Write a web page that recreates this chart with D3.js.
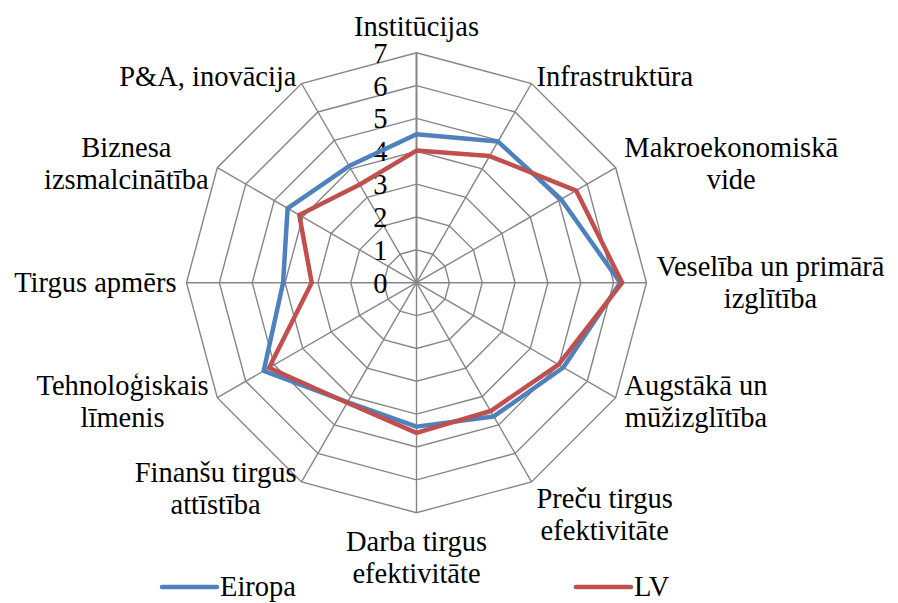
<!DOCTYPE html>
<html>
<head>
<meta charset="utf-8">
<script src="https://cdn.jsdelivr.net/npm/d3@7"></script>
<style>
  body { margin: 0; background: #fff; font-family: "Liberation Serif", serif; }
  text, tspan { font-family: "Liberation Serif", serif !important; }
</style>
</head>
<body>
<div id="chart"></div>
<script>
// radar chart: Eiropa vs LV

const categories = [
    ["Institūcijas"],
    ["Infrastruktūra"],
    ["Makroekonomiskā", "vide"],
    ["Veselība un primārā", "izglītība"],
    ["Augstākā un", "mūžizglītība"],
    ["Preču tirgus", "efektivitāte"],
    ["Darba tirgus", "efektivitāte"],
    ["Finanšu tirgus", "attīstība"],
    ["Tehnoloģiskais", "līmenis"],
    ["Tirgus apmērs"],
    ["Biznesa", "izsmalcinātība"],
    ["P&A, inovācija"]
]
const eiropa = [4.52, 4.96, 5.08, 6.2, 5.16, 4.70, 4.38, 4.2, 5.37, 4.06, 4.53, 4.1]
const lv = [4.02, 4.45, 5.61, 6.26, 4.99, 4.51, 4.57, 4.22, 5.18, 3.19, 4.12, 3.45]
const ticks = [0, 1, 2, 3, 4, 5, 6, 7]
const seriesNames = ["Eiropa", "LV"]
const colors = ["#4F81BD", "#C0504D"]

let width = 898
let height = 603
let cx = 416.5
let cy = 282.7
let radius = 230
let fontSize = 28.5
let lineH = 32

var svg = d3.select("#chart")
    .append("svg")
    .attr("width", width)
    .attr("height", height)
    .attr("font-family", "Liberation Serif")

var r = d3.scaleLinear().domain([0, 7]).range([0, radius])
var angle = d3.scaleLinear().domain([0, categories.length]).range([0, 2 * Math.PI])

function pt(i, v) {
    let a = angle(i)
    return [cx + Math.sin(a) * r(v), cy - Math.cos(a) * r(v)]
}

function styleText(sel) {
    sel.attr("font-family", "Liberation Serif")
        .style("font-family", "Liberation Serif")
        .style("font-size", fontSize + "px")
        .attr("fill", "#000")
}

const g = svg.append("g")

// rings
g.selectAll(".ring")
    .data(ticks.slice(1))
    .enter()
    .append("polygon")
    .attr("points", t => categories.map((c, i) => pt(i, t).join(",")).join(" "))
    .attr("fill", "none")
    .attr("stroke", "#868686")
    .attr("stroke-width", 1.4)

// spokes
g.selectAll(".spoke")
    .data(categories)
    .enter()
    .append("line")
    .attr("x1", cx).attr("y1", cy)
    .attr("x2", (d, i) => pt(i, 7)[0])
    .attr("y2", (d, i) => pt(i, 7)[1])
    .attr("stroke", "#868686")
    .attr("stroke-width", (d, i) => i == 0 ? 2 : 1.4)

// tick labels along the top axis
g.selectAll(".tick")
    .data(ticks)
    .enter()
    .append("text")
    .attr("x", cx - 29)
    .attr("y", t => cy - r(t) + 10)
    .attr("text-anchor", "end")
    .call(styleText)
    .text(t => t)

// series
var line = d3.line().curve(d3.curveLinearClosed)
const series = [eiropa, lv]
g.selectAll(".series")
    .data(series)
    .enter()
    .append("path")
    .attr("d", s => line(s.map((v, i) => pt(i, v))))
    .attr("fill", "none")
    .attr("stroke", (s, k) => colors[k])
    .attr("stroke-width", 4.5)
    .attr("stroke-linejoin", "round")

// category labels
categories.forEach((lines, i) => {
    let a = angle(i)
    let s = Math.sin(a), c = Math.cos(a)
    let [px, py] = pt(i, 7)
    let h = lines.length * lineH
    let x, midY
    if (Math.abs(s) < 0.01) {
        x = px
        midY = c > 0 ? py - h / 2 - 10 : py + h / 2 + 13
    } else {
        midY = py - c * 8
        if (i == 5) midY += 26
        // measure width to centre lines inside the box
        let tmp = svg.append("text").call(styleText)
        let w = 0
        lines.forEach(l => { tmp.text(l); w = Math.max(w, tmp.node().getComputedTextLength()) })
        tmp.remove()
        let gap = 10 * Math.abs(s)
        x = s > 0 ? px + gap + w / 2 : px - gap - w / 2
    }
    let t = svg.append("text")
        .attr("text-anchor", "middle")
        .call(styleText)
    lines.forEach((l, k) => {
        t.append("tspan")
            .attr("x", x)
            .attr("y", midY - h / 2 + k * lineH + lineH / 2 + 9.5)
            .text(l)
    })
})

// legend
const legendX = [162, 576]
const legend = svg.selectAll(".legend")
    .data(seriesNames)
    .enter()
    .append("g")
    .attr("transform", (d, k) => `translate(${legendX[k]},587)`)

legend.append("line")
    .attr("x1", 0).attr("x2", 55)
    .attr("stroke", (d, k) => colors[k])
    .attr("stroke-width", 4.5)
    .attr("stroke-linecap", "round")

legend.append("text")
    .attr("x", 58)
    .attr("y", 9)
    .call(styleText)
    .text(d => d)
</script>
</body>
</html>
